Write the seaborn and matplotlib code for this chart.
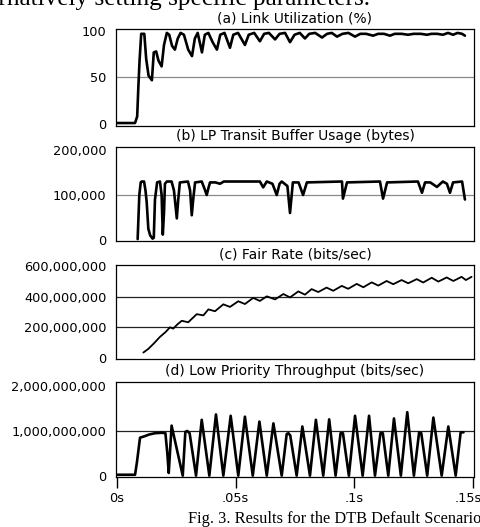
import matplotlib
matplotlib.use("Agg")
import numpy as np
import pandas as pd
import seaborn as sns
import matplotlib.pyplot as plt
import matplotlib.transforms as mtrans
from matplotlib.ticker import FuncFormatter

# ---------------- data (time in ms) ----------------
util_t = [0, 7.6, 8.5, 9.0, 9.5, 10.2, 11.5, 12.3, 13.3, 14.7, 15.5, 16.5, 17.5, 18.8, 19.8,
          21.0, 22.0, 23.2, 24.4, 25.6, 26.8, 28.2, 30.0, 31.6, 32.8, 34.0, 35.8, 37.0, 38.5,
          40.3, 42.1, 43.5, 45.3, 47.6, 49.0, 51.0, 53.9, 55.5, 57.8, 60.2, 62.0, 64.0, 66.6,
          68.5, 70.8, 72.9, 74.8, 77.0, 79.2, 81.0, 83.5, 86.4, 88.5, 90.5, 92.7, 95.0, 97.5,
          100.3, 102.5, 105.0, 107.9, 110.0, 112.5, 115.0, 117.0, 120.0, 122.6, 125.0, 128.0,
          130.6, 132.5, 135.0, 137.3, 139.5, 141.6, 143.5, 145.4, 146.6]
util_v = [1, 1, 8, 40, 68, 97, 97, 70, 52, 47, 77, 78, 68, 62, 85,
          98, 96, 84, 80, 92, 98, 96, 80, 73, 92, 98, 77, 96, 98,
          88, 80, 96, 98, 82, 96, 98, 85, 96, 98, 89, 97, 98, 91,
          97, 98, 88, 96, 98, 92, 97, 98, 93, 97, 98, 94, 97, 98,
          94, 97, 97, 95, 97, 97, 95, 97, 97, 96, 97, 97,
          96, 97, 97, 96, 98, 96, 98, 97, 95]

buf_t = [8.7, 9.4, 10.0, 10.4, 11.4, 12.0, 12.5, 13.2, 14.0, 15.0, 15.5, 16.0, 16.9, 18.1,
         18.8, 19.3, 19.8, 20.2, 21.0, 23.0, 24.0, 25.2, 25.8, 26.5, 29.9, 30.8, 31.5, 32.2,
         32.9, 35.7, 36.8, 37.8, 38.5, 39.2, 41.5, 43.4, 45.0, 60.2, 61.6, 63.1, 65.5, 67.3,
         68.5, 69.4, 71.8, 72.9, 74.1, 76.5, 78.4, 80.0, 94.8, 95.2, 96.9, 110.8, 112.1, 113.8,
         126.8, 128.5, 129.8, 132.0, 134.8, 137.3, 139.0, 140.3, 141.6, 145.4, 146.6]
buf_kb = [2, 100, 128, 130, 130, 110, 85, 25, 10, 3, 5, 90, 128, 130,
          100, 12, 60, 125, 130, 130, 110, 48, 90, 128, 130, 110, 55, 95,
          128, 130, 115, 100, 115, 128, 128, 125, 130, 130, 117, 130, 125, 100,
          125, 130, 120, 60, 128, 128, 100, 128, 130, 92, 128, 130, 92, 128,
          130, 105, 128, 128, 118, 130, 125, 105, 128, 130, 90]

fair_t = [11.1, 13.2, 15.5, 18.1, 20.5, 22.3, 23.7, 25.5, 27.3, 30.0, 33.6, 36.4, 38.5, 41.3,
          44.8, 47.6, 51.1, 53.9, 57.4, 60.2, 63.1, 66.6, 70.1, 72.9, 76.4, 79.2, 82.0, 84.8,
          88.3, 91.1, 94.7, 97.4, 101.0, 103.8, 107.3, 110.1, 113.6, 116.4, 119.9, 122.7,
          126.3, 129.0, 132.6, 135.4, 138.9, 141.7, 145.2, 147.0, 149.4]
fair_mbps = [36, 60, 95, 138, 170, 200, 192, 220, 243, 233, 286, 278, 317, 305,
             350, 333, 370, 352, 392, 372, 402, 382, 417, 395, 434, 413, 449, 430,
             459, 438, 470, 451, 483, 461, 493, 472, 502, 481, 508, 487,
             514, 492, 523, 498, 525, 502, 529, 508, 529]

thr_t = [0, 7.6, 8.4, 9.7, 11.5, 13.5, 16.0, 19.0, 20.4, 21.2, 21.8, 22.3, 23.0,
         27.7, 28.8, 29.6, 30.6, 33.3, 35.7, 38.9, 41.7, 44.8, 47.9, 51.1, 53.9, 57.2,
         60.0, 63.1, 65.9, 69.4, 71.5, 72.2, 73.0, 75.7, 78.1, 81.3, 83.8, 86.9, 89.4,
         92.1, 94.2, 95.2, 97.7, 100.3, 103.5, 106.2, 108.7, 111.0, 112.0, 114.3, 116.7,
         119.6, 122.3, 125.1, 127.3, 128.2, 130.7, 133.3, 136.8, 139.6, 142.7, 144.8, 146.0]
thr_gbps = [0.02, 0.02, 0.3, 0.85, 0.88, 0.92, 0.95, 0.96, 0.95, 0.5, 0.06, 0.5, 1.12,
            0.0, 0.98, 1.0, 0.95, 0.0, 1.25, 0.0, 1.37, 0.0, 1.34, 0.0, 1.32, 0.0,
            1.21, 0.0, 1.17, 0.0, 0.93, 0.95, 0.9, 0.0, 1.10, 0.0, 1.25, 0.0, 1.26,
            0.0, 0.95, 0.95, 0.0, 1.34, 0.0, 1.34, 0.0, 0.95, 0.95, 0.0, 1.28,
            0.0, 1.42, 0.0, 0.97, 0.95, 0.0, 1.30, 0.0, 1.10, 0.0, 0.97, 0.97]

titles = ["(a) Link Utilization (%)", "(b) LP Transit Buffer Usage (bytes)",
          "(c) Fair Rate (bits/sec)", "(d) Low Priority Throughput (bits/sec)"]
x_ticks = [0, 0.05, 0.1, 0.15]
x_tick_labels = ["0s", ".05s", ".1s", ".15s"]

# ---------------- figure ----------------
sns.set_theme(style="white")
plt.rcParams["font.family"] = ["DejaVu Sans"]

W, H = 481, 527
fig = plt.figure(figsize=(W / 100, H / 100), dpi=100)
fig.patch.set_facecolor("white")

def box(top, bottom, left=116, right=474):
    return [left / W, 1 - bottom / H, (right - left) / W, (bottom - top) / H]

panels = [
    dict(t=util_t, v=np.array(util_v, float), rect=box(29, 126), ylim=(-2.2, 102.2),
         yticks=[0, 50, 100], grid=[50], gc="#8a8a8a", lw=1.9),
    dict(t=buf_t, v=np.array(buf_kb, float) * 1e3, rect=box(147, 241), ylim=(-2200, 206700),
         yticks=[0, 100000, 200000], grid=[100000], gc="#8a8a8a", lw=1.9),
    dict(t=fair_t, v=np.array(fair_mbps, float) * 1e6, rect=box(265, 359), ylim=(-6e6, 606e6),
         yticks=[0, 200e6, 400e6, 600e6], grid=[200e6, 400e6], gc="#222222", lw=1.3),
    dict(t=thr_t, v=np.array(thr_gbps, float) * 1e9, rect=box(382, 477), ylim=(-0.03e9, 2.096e9),
         yticks=[0, 1e9, 2e9], grid=[1e9], gc="#222222", lw=1.9),
]

xlim = (-0.15 / 356, 0.15 + 0.15 / 356)
fmt = FuncFormatter(lambda v, p: f"{v:,.0f}")
FS = 9.3

for i, p in enumerate(panels):
    ax = fig.add_axes(p["rect"])
    ax.set_facecolor("white")
    df = pd.DataFrame({"time": np.array(p["t"]) / 1000.0, "value": p["v"]})
    for g in p["grid"]:
        ax.axhline(g, color=p["gc"], lw=0.9, zorder=1)
    sns.lineplot(data=df, x="time", y="value", ax=ax, color="black", lw=p["lw"],
                 estimator=None, sort=False, zorder=3)
    ax.set_xlim(*xlim)
    ax.set_ylim(*p["ylim"])
    ax.set_yticks(p["yticks"])
    ax.yaxis.set_major_formatter(fmt)
    ax.tick_params(axis="y", length=0, pad=7, labelsize=FS, labelcolor="black")
    ax.set_xlabel("")
    ax.set_ylabel("")
    ax.set_title(titles[i], fontsize=10, pad=5, color="black")
    for s in ax.spines.values():
        s.set_visible(True)
        s.set_color("black")
        s.set_linewidth(0.9)
    if i < 3:
        ax.set_xticks([])
    else:
        ax.set_xticks(x_ticks)
        ax.set_xticklabels(x_tick_labels)
        ax.tick_params(axis="x", bottom=True, direction="out", length=8, width=1,
                       color="black", pad=3, labelsize=FS, labelcolor="black")
        last = ax.get_xticklabels()[-1]
        last.set_transform(last.get_transform() +
                           mtrans.ScaledTranslation(-5 / 100, 0, fig.dpi_scale_trans))

fig.text(370 / W, 1 - 5 / H, "alternatively setting specific parameters.", ha="right",
         va="baseline", family="Liberation Serif", fontsize=18.2, color="black")
fig.text(188 / W, 1 - 523 / H, "Fig. 3. Results for the DTB Default Scenario", ha="left",
         va="baseline", family="Liberation Serif", fontsize=11.8, color="black")

fig.savefig("out.png", dpi=100, facecolor="white")
